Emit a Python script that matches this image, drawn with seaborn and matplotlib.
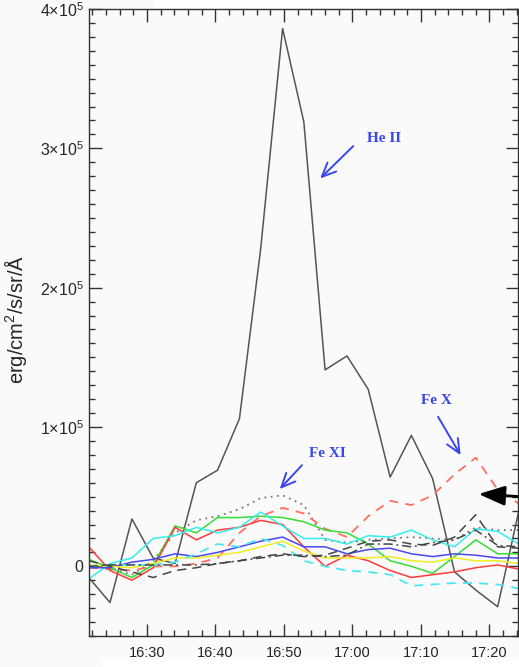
import numpy as np
import pandas as pd
import matplotlib
matplotlib.use("Agg")
import matplotlib.pyplot as plt
import matplotlib.dates as mdates
import seaborn as sns

# observation times (UT)
times = ["16:21:30", "16:24:36", "16:27:48", "16:30:54", "16:34:06", "16:37:12",
         "16:40:18", "16:43:30", "16:46:36", "16:49:48", "16:52:54", "16:56:00",
         "16:59:12", "17:02:18", "17:05:30", "17:08:36", "17:11:42", "17:14:54",
         "17:18:00", "17:21:12", "17:24:18"]

# intensities in units of 1e3 erg/cm^2/s/sr/A
he_ii = [-8, -26, 34, 6, 2, 60, 69, 106, 228, 386, 319, 141, 151, 127, 64, 94, 63, -4, -17, -29, 40]
fe_xi = [0, -1, -6, 4, 24, 33, 36, 41, 49, 51, 44, 19, 17, 19, 20, 21, 20, 19, 28, 26, 26]
fe_x = [-1, -2, -3, 0, 0, 2, 6, 24, 36, 42, 38, 27, 21, 36, 47, 44, 51, 66, 78, 55, 45]
green = [5, -1, -8, 1, 29, 24, 35, 35, 36, 35, 32, 26, 24, 16, 4, 0, -5, 7, 19, 9, 9]
red = [14, -3, -10, -1, 28, 19, 26, 28, 33, 30, 14, 0, 8, 4, -3, -8, -6, -4, -1, 1, -2]
cyan = [-9, 2, 6, 20, 22, 28, 24, 28, 39, 29, 20, 20, 16, 22, 21, 26, 19, 14, 27, 25, 16]
blue = [-1, -1, 3, 5, 9, 7, 10, 14, 18, 21, 14, 14, 9, 12, 13, 9, 7, 9, 8, 6, 6]
yellow = [1, 0, -1, 2, 6, 6, 8, 10, 14, 18, 11, 6, 6, 6, 7, 4, 3, 6, 4, 4, 2]
cyan_dash = [0, 1, 1, 1, 3, 9, 16, 14, 20, 15, 4, 0, -3, -4, -6, -14, -13, -12, -12, -13, -16]
dark_dash = [4, 0, -4, -8, -3, -1, 2, 4, 7, 9, 7, 8, 13, 18, 19, 16, 15, 21, 37, 14, 13]
dark_dashdot = [0, 1, 1, 1, 1, 1, 2, 4, 6, 8, 8, 7, 8, 16, 16, 14, 17, 19, 26, 15, 14]

t = pd.to_datetime(["2000-01-01 " + s for s in times])

series = [
    (he_ii, "#555555", "-", 1.1),
    (fe_xi, "#777777", (0, (1, 2.5)), 1.3),
    (fe_x, "#ff6f5f", (0, (5, 4)), 1.3),
    (green, "#33dd33", "-", 1.1),
    (red, "#ff3b3b", "-", 1.1),
    (cyan, "#33eeee", "-", 1.1),
    (blue, "#4848ee", "-", 1.1),
    (yellow, "#eeee22", "-", 1.1),
    (cyan_dash, "#4de8ee", (0, (5, 4)), 1.3),
    (dark_dash, "#444444", (0, (6, 4)), 1.1),
    (dark_dashdot, "#444444", (0, (6, 2.5, 1.2, 2.5)), 1.1),
]

sns.set_style("ticks")
plt.rcParams["font.family"] = ["Liberation Sans", "DejaVu Sans"]
plt.rcParams["mathtext.fontset"] = "custom"
plt.rcParams["mathtext.rm"] = "Liberation Sans"
plt.rcParams["mathtext.it"] = "Liberation Sans:italic"
plt.rcParams["mathtext.bf"] = "Liberation Sans:bold"

bg = "#fafafa"
fig = plt.figure(figsize=(5.19, 6.67), dpi=100, facecolor=bg)
ax = fig.add_axes([89 / 519, 31 / 667, 429 / 519, 627 / 667], facecolor=bg)

for vals, col, ls, lw in series:
    sns.lineplot(x=t, y=np.array(vals) * 1e3, ax=ax, color=col, linestyle=ls,
                 linewidth=lw, legend=False)

ax.set_xlim(pd.Timestamp("2000-01-01 16:21:32"), pd.Timestamp("2000-01-01 17:24:10"))
ax.set_ylim(-5e4, 4e5)

ax.xaxis.set_major_locator(mdates.MinuteLocator(byminute=range(0, 60, 10)))
ax.xaxis.set_minor_locator(mdates.MinuteLocator(byminute=range(0, 60, 2)))
ax.xaxis.set_major_formatter(mdates.DateFormatter("%H:%M"))
ax.set_yticks([0, 1e5, 2e5, 3e5, 4e5],
              labels=["0", r"1$\times$10$^5$", r"2$\times$10$^5$", r"3$\times$10$^5$", r"4$\times$10$^5$"])
ax.set_yticks(np.arange(-5e4, 4.01e5, 1e4), minor=True)

ax.tick_params(which="both", direction="in", top=True, right=True, color="#333333")
ax.tick_params(which="major", length=9, width=1.0)
ax.tick_params(which="minor", length=4.5, width=1.0)
ax.tick_params(axis="y", labelsize=11.5, pad=4)
ax.tick_params(axis="x", labelsize=10.5, pad=7)
for sp in ax.spines.values():
    sp.set_color("#333333")
    sp.set_linewidth(1.0)

ax.set_xlabel("")
ax.set_ylabel("erg/cm$^2$/s/sr/Å", fontsize=14.5)
ax.yaxis.set_label_coords(-0.14, 0.505)

def tn(s):
    return mdates.date2num(pd.Timestamp("2000-01-01 " + s))

blue_txt = "#3846f0"
note_font = dict(color=blue_txt, fontsize=11, fontweight="bold", ha="center", va="center",
                 family=["Liberation Serif", "DejaVu Serif"])
arrow_kw = dict(arrowstyle="->,head_length=1.0,head_width=0.45", color=blue_txt, lw=1.4)
ax.annotate("", xy=(tn("16:55:00"), 277e3), xytext=(tn("17:00:24"), 303e3), arrowprops=arrow_kw)
ax.text(tn("17:04:40"), 307e3, "He II", **note_font)
ax.annotate("", xy=(tn("16:49:06"), 54e3), xytext=(tn("16:52:54"), 74e3), arrowprops=arrow_kw)
ax.text(tn("16:56:24"), 81e3, "Fe XI", **note_font)
ax.annotate("", xy=(tn("17:16:00"), 78e3), xytext=(tn("17:12:18"), 109e3), arrowprops=arrow_kw)
ax.text(tn("17:12:12"), 119e3, "Fe X", **note_font)
ax.annotate("", xy=(tn("17:18:00"), 52e3), xytext=(tn("17:24:30"), 50e3),
            arrowprops=dict(arrowstyle="-|>,head_length=1.6,head_width=0.6", color="black", lw=2),
            annotation_clip=False)

# white crop strips of the original scan
fig.patches.append(plt.Rectangle((155 / 519, 659 / 667), 1, 0.02, transform=fig.transFigure,
                                 facecolor="white", edgecolor="none", zorder=10))
fig.patches.append(plt.Rectangle((103 / 519, 0), 1, 10 / 667, transform=fig.transFigure,
                                 facecolor="white", edgecolor="none", zorder=10))

fig.savefig("out.png", dpi=100, facecolor=bg)
